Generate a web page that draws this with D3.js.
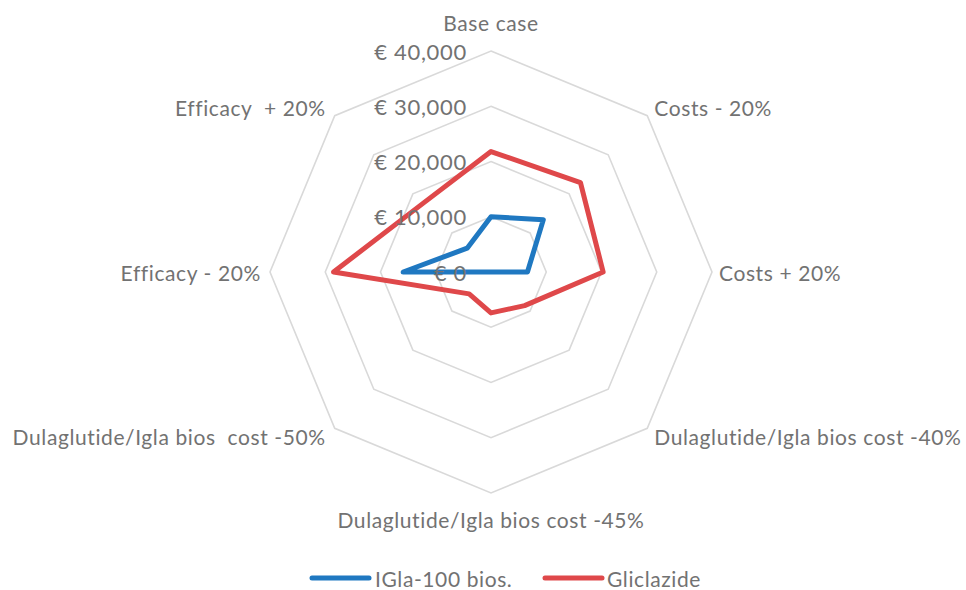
<!DOCTYPE html>
<html><head><meta charset="utf-8">
<script src="https://cdn.jsdelivr.net/npm/d3@7"></script>
<style>
html,body{margin:0;padding:0;background:#fff;}
svg{display:block;font-family:Lato,"Open Sans",sans-serif;}
</style></head>
<body><svg id="chart" width="966" height="590"></svg>
<script>
const categories = ["Base case","Costs - 20%","Costs + 20%","Dulaglutide/Igla bios cost -40%","Dulaglutide/Igla bios cost -45%","Dulaglutide/Igla bios  cost -50%","Efficacy - 20%","Efficacy  + 20%"];
const seriesNames = ["IGla-100 bios.","Gliclazide"];
const iglaValues = [10000, 13400, 6600, 0, 0, 0, 15900, 6100];
const gliclazideValues = [21800, 22900, 20300, 8600, 7400, 5600, 28500, 17500];
const tickValues = [0, 10000, 20000, 30000, 40000];
const tickLabels = ["€ 0","€ 10,000","€ 20,000","€ 30,000","€ 40,000"];
const colors = ["#1f78c1","#df484a"];

const svg = d3.select("#chart");
const cx = 491, cy = 272, R = 221;
const r = d3.scaleLinear().domain([0, 40000]).range([0, R]);
const n = categories.length;
const ang = d3.scaleLinear().domain([0, n]).range([0, 2*Math.PI]);
const pt = (i, v) => [cx + r(v)*Math.sin(ang(i)), cy - r(v)*Math.cos(ang(i))];

const textColor = "#727272";
const fs = 21, ls = 0.6;

// grid octagons
const grid = svg.append("g");
tickValues.filter(v => v > 0).forEach(v => {
  grid.append("path")
    .attr("d", d3.line()(d3.range(n).map(i => pt(i, v))) + "Z")
    .attr("fill", "none").attr("stroke", "#d9d9d9").attr("stroke-width", 1.6);
});

// series
const data = [iglaValues, gliclazideValues];
const lineGen = d3.line();
data.forEach((vals, s) => {
  svg.append("path")
    .attr("d", lineGen(vals.map((v, i) => pt(i, v))) + "Z")
    .attr("fill", "none").attr("stroke", colors[s]).attr("stroke-width", 5)
    .attr("stroke-linejoin", "round");
});

// tick labels
tickValues.forEach((v, k) => {
  svg.append("text")
    .attr("x", cx - 24).attr("y", cy - r(v))
    .attr("text-anchor", "end").attr("dominant-baseline", "central")
    .attr("fill", textColor).attr("font-size", 22).attr("letter-spacing", 0.7)
    .text(tickLabels[k]);
});

// category labels
categories.forEach((c, i) => {
  const a = ang(i);
  const s = Math.sin(a), co = Math.cos(a);
  let x, y, anchor;
  if (Math.abs(s) < 1e-6) {
    anchor = "middle";
    x = cx;
    y = cy - (R + (co > 0 ? 29 : 26)) * co;
  } else {
    anchor = s > 0 ? "start" : "end";
    const [px, py] = pt(i, 40000);
    x = px + (s > 0 ? 7 : -9);
    y = py - (Math.abs(co) > 1e-6 ? Math.sign(co) * 8.5 : 0);
  }
  svg.append("text")
    .attr("x", x).attr("y", y)
    .attr("text-anchor", anchor).attr("dominant-baseline", "central")
    .attr("fill", textColor).attr("font-size", fs).attr("letter-spacing", ls)
    .attr("xml:space", "preserve").style("white-space", "pre")
    .text(c);
});

// legend
const legendItems = [{x: 312, tx: 375}, {x: 545, tx: 607}];
seriesNames.forEach((name, s) => {
  const li = legendItems[s];
  svg.append("line")
    .attr("x1", li.x).attr("x2", li.x + 57).attr("y1", 578).attr("y2", 578)
    .attr("stroke", colors[s]).attr("stroke-width", 5).attr("stroke-linecap", "round");
  svg.append("text")
    .attr("x", li.tx).attr("y", 578).attr("dominant-baseline", "central")
    .attr("fill", textColor).attr("font-size", fs).attr("letter-spacing", ls)
    .text(name);
});
</script></body></html>
